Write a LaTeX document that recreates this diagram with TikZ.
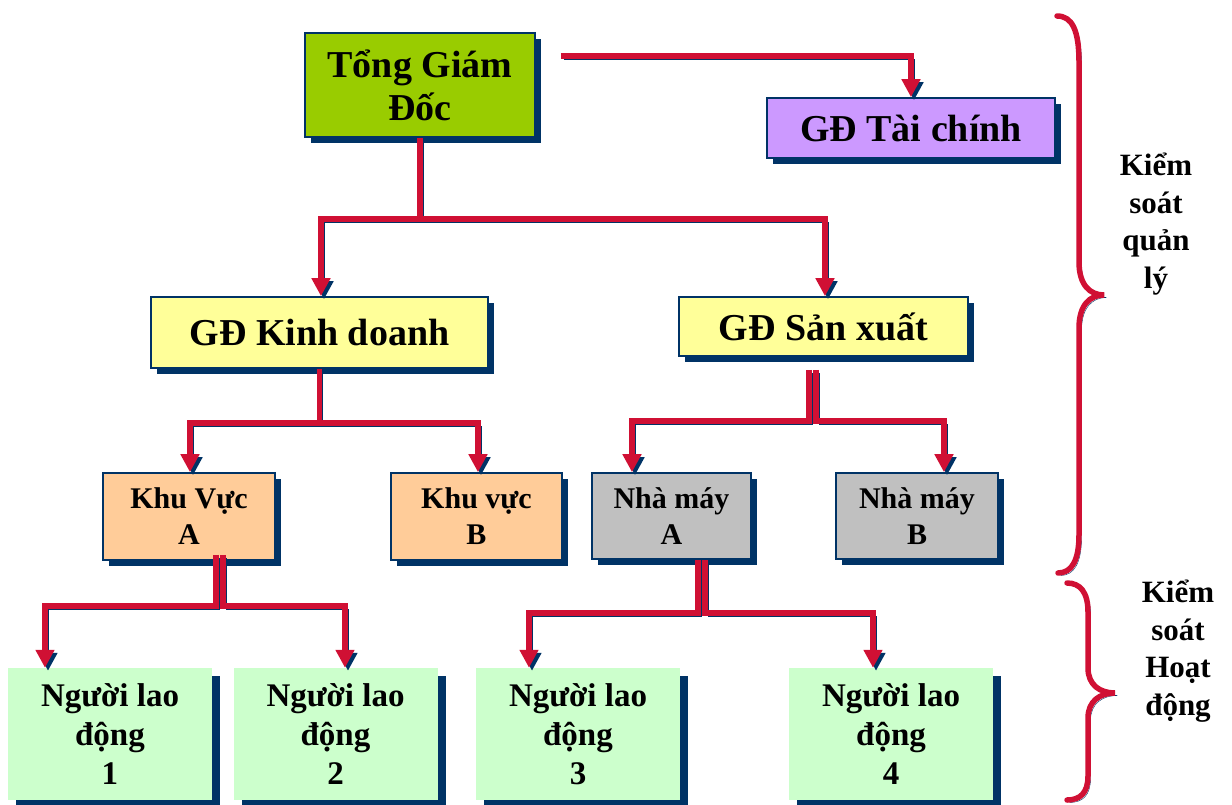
\documentclass[tikz,border=0pt]{standalone}
\usepackage{fontspec}
\setmainfont{Liberation Serif}
\usetikzlibrary{arrows.meta,shadows}
\definecolor{navy}{HTML}{003366}
\definecolor{cred}{HTML}{D01034}
\definecolor{cgreen}{HTML}{99CC00}
\definecolor{cpurple}{HTML}{CC99FF}
\definecolor{cyellow}{HTML}{FFFF99}
\definecolor{corange}{HTML}{FFCC99}
\definecolor{cgrey}{HTML}{C0C0C0}
\definecolor{clgreen}{HTML}{CCFFCC}
\begin{document}
\begin{tikzpicture}[x=1pt,y=-1pt,
  box/.style={draw=navy, line width=1.6pt, inner sep=0pt, align=center, text=black,
    drop shadow={shadow xshift=6pt,shadow yshift=-6pt,fill=navy,opacity=1}},
  bigtxt/.style={font=\fontsize{38}{43}\selectfont\bfseries},
  midtxt/.style={font=\fontsize{30}{36}\selectfont\bfseries},
  worker/.style={fill=clgreen, draw=none, inner sep=0pt, minimum width=204pt, minimum height=132pt,
    drop shadow={shadow xshift=8pt,shadow yshift=-8pt,fill=navy,opacity=1},
    font=\fontsize{33}{39}\selectfont\bfseries, align=center},
  conn/.style={draw=cred, line width=5.5pt, -{Triangle[length=18pt,width=18pt]},
    preaction={draw=navy, transform canvas={shift={(3pt,-3pt)}}}},
  bracepath/.style={draw=cred, line width=5.5pt, line cap=round,
    preaction={draw=navy, transform canvas={shift={(2.5pt,-2.5pt)}}}},
  sidelabel/.style={font=\fontsize{31}{37.5}\selectfont\bfseries, align=center}
]
\useasboundingbox (0,0) rectangle (1232,804);

% boxes
\node[box, bigtxt, fill=cgreen, minimum width=230pt, minimum height=104pt] (tgd) at (420,85) {Tổng Giám\\Đốc};
\node[box, bigtxt, fill=cpurple, minimum width=288pt, minimum height=60pt] (tc) at (911,128) {GĐ Tài chính};
\node[box, bigtxt, fill=cyellow, minimum width=337pt, minimum height=71pt] (kd) at (319.5,332.5) {GĐ Kinh doanh};
\node[box, bigtxt, fill=cyellow, minimum width=289pt, minimum height=59pt] (sx) at (823.5,326.5) {GĐ Sản xuất};
\node[box, midtxt, fill=corange, minimum width=172pt, minimum height=87pt] (kva) at (189,516.5) {Khu Vực\\A};
\node[box, midtxt, fill=corange, minimum width=171pt, minimum height=87pt] (kvb) at (476.5,516.5) {Khu vực\\B};
\node[box, midtxt, fill=cgrey, minimum width=159pt, minimum height=86pt] (nma) at (671.5,516) {Nhà máy\\A};
\node[box, midtxt, fill=cgrey, minimum width=162pt, minimum height=86pt] (nmb) at (917,516) {Nhà máy\\B};
\node[worker] (w1) at (110,734) {Người lao\\động\\1};
\node[worker] (w2) at (335.5,734) {Người lao\\động\\2};
\node[worker] (w3) at (578,734) {Người lao\\động\\3};
\node[worker] (w4) at (891,734) {Người lao\\động\\4};

% connectors
\draw[conn] ([xshift=25pt,yshift=-24pt]tgd.north east) -| (tc.north);
\draw[conn] (tgd.south) -- ++(0,81) -| ([xshift=1.5pt]kd.north);
\draw[conn] (tgd.south) -- ++(0,81) -| ([xshift=1.5pt]sx.north);
\draw[conn] (kd.south) -- ++(0,54) -| ([xshift=1pt]kva.north);
\draw[conn] (kd.south) -- ++(0,54) -| ([xshift=1.5pt]kvb.north);
\draw[conn] ([xshift=-14.5pt,yshift=-13pt]sx.south) -- ++(0,51) -| ([xshift=-39.5pt]nma.north);
\draw[conn] ([xshift=-7.5pt,yshift=-13pt]sx.south) -- ++(0,51) -| ([xshift=27pt]nmb.north);
\draw[conn] ([xshift=27pt,yshift=6pt]kva.south) -- ++(0,51) -| ([xshift=-65pt]w1.north);
\draw[conn] ([xshift=34pt,yshift=6pt]kva.south) -- ++(0,51) -| ([xshift=9.5pt]w2.north);
\draw[conn] ([xshift=26.5pt]nma.south) -- ++(0,53) -| ([xshift=-49pt]w3.north);
\draw[conn] ([xshift=33.5pt]nma.south) -- ++(0,53) -| ([xshift=-18pt]w4.north);

% braces
\draw[bracepath] (1057,16) .. controls (1072,16) and (1079,30) .. (1079,62)
  -- (1079,262) .. controls (1079,285) and (1090,295) .. (1104,295)
  .. controls (1090,295) and (1079,305) .. (1079,328)
  -- (1079,535) .. controls (1079,560) and (1072,573) .. (1058,573);
\draw[bracepath] (1067,583) .. controls (1080,583) and (1088,592) .. (1088,612)
  -- (1088,668) .. controls (1088,685) and (1100,693) .. (1115,693)
  .. controls (1100,693) and (1088,701) .. (1088,718)
  -- (1088,776) .. controls (1088,793) and (1080,800) .. (1067,800);

% side labels
\node[sidelabel] (lq) at (1156,224) {Kiểm\\soát\\quản\\lý};
\node[sidelabel] (lh) at (1178,651) {Kiểm\\soát\\Hoạt\\động};
\end{tikzpicture}
\end{document}
